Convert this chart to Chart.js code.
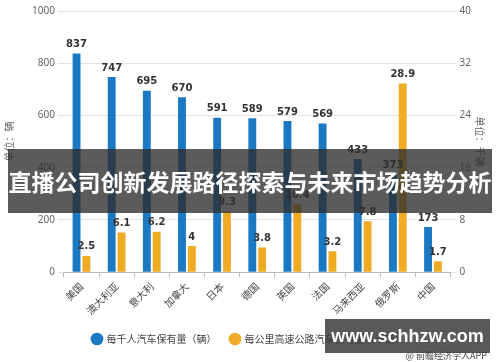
<!DOCTYPE html>
<html>
<head>
<meta charset="utf-8">
<script src="https://cdn.jsdelivr.net/npm/chart.js@4"></script>
<style>
    html, body { margin: 0; padding: 0; background: #fff; }
    #wrap { position: relative; width: 500px; height: 362px; overflow: hidden; font-family: "Noto Sans CJK SC", "Noto Sans", sans-serif; }
    #banner {
        position: absolute; left: 8px; top: 149px; width: 484px; height: 64px;
        background: rgba(45, 45, 45, 0.78); color: #fff;
        font-size: 23px; font-weight: bold; line-height: 64px; text-align: center; white-space: nowrap;
    }
    #site {
        position: absolute; left: 325px; top: 319px; width: 165px; height: 34px;
        background: rgba(60, 60, 60, 0.85); color: #fff;
        font-family: "Liberation Sans", sans-serif; font-size: 18px; font-weight: bold; line-height: 34px; text-align: center;
    }
    #src { position: absolute; right: 13px; top: 350px; font-size: 9px; line-height: 11px; color: #444; }
</style>
</head>
<body>
<div id="wrap">
    <canvas id="chart" width="500" height="362"></canvas>
    <div id="banner">直播公司创新发展路径探索与未来市场趋势分析</div>
    <div id="site">www.schhzw.com</div>
    <div id="src">@ 前瞻经济学人APP</div>
</div>
<script>
// data
const countries = ['美国', '澳大利亚', '意大利', '加拿大', '日本', '德国', '英国', '法国', '马来西亚', '俄罗斯', '中国'];
const carsPer1000 = [837, 747, 695, 670, 591, 589, 579, 569, 433, 373, 173];
const carsPerKm = [2.5, 6.1, 6.2, 4, 9.3, 3.8, 10.4, 3.2, 7.8, 28.9, 1.7];
const leftTicks = [0, 200, 400, 600, 800, 1000];
const rightTicks = [0, 8, 16, 24, 32, 40];

const blue = '#1b78c2';
const orange = '#f0ab25';

// value labels on top of each bar
const barLabels = {
    id: 'barLabels',
    afterDatasetsDraw(chart) {
        const ctx = chart.ctx;
        ctx.save();
        ctx.font = 'bold 10px "DejaVu Sans", sans-serif';
        ctx.fillStyle = '#333';
        ctx.textAlign = 'center';
        ctx.textBaseline = 'bottom';
        chart.data.datasets.forEach((ds, i) => {
            chart.getDatasetMeta(i).data.forEach((bar, j) => {
                ctx.fillText(String(ds.data[j]), bar.x, bar.y - 4);
            });
        });
        ctx.restore();
    }
};

// fixed legend height so the plot keeps its size
const legendHeight = {
    id: 'legendHeight',
    beforeInit(chart) {
        const fit = chart.legend.fit;
        chart.legend.fit = function () {
            fit.call(this);
            this.height = 38;
        };
    }
};

document.addEventListener('DOMContentLoaded', function () {
    const ctx = document.getElementById('chart').getContext('2d');
    new Chart(ctx, {
        type: 'bar',
        data: {
            labels: countries,
            datasets: [{
                label: '每千人汽车保有量（辆）',
                data: carsPer1000,
                backgroundColor: blue,
                yAxisID: 'y',
                categoryPercentage: 0.56,
                barPercentage: 0.8
            }, {
                label: '每公里高速公路汽车保有量（千辆）',
                data: carsPerKm,
                backgroundColor: orange,
                yAxisID: 'y1',
                categoryPercentage: 0.56,
                barPercentage: 0.8
            }]
        },
        options: {
            responsive: false,
            animation: false,
            layout: { padding: { top: 11, left: 3, right: 6, bottom: 4 } },
            plugins: {
                legend: {
                    position: 'bottom',
                    labels: {
                        usePointStyle: true,
                        pointStyle: 'circle',
                        boxWidth: 9,
                        boxHeight: 9,
                        padding: 14,
                        color: '#444',
                        font: { size: 10, family: '"Noto Sans CJK SC", sans-serif' }
                    }
                },
                tooltip: { enabled: false }
            },
            scales: {
                x: {
                    grid: { display: true, drawOnChartArea: false, offset: true, tickLength: 5, color: '#bbb' },
                    border: { color: '#bbb' },
                    ticks: {
                        maxRotation: 45, minRotation: 45,
                        color: '#444',
                        font: { size: 10, family: '"Noto Sans CJK SC", sans-serif' }
                    }
                },
                y: {
                    position: 'left',
                    min: 0, max: 1000,
                    afterBuildTicks: axis => { axis.ticks = leftTicks.map(v => ({ value: v })); },
                    grid: { color: '#e4e4e4', tickLength: 6 },
                    border: { display: false },
                    ticks: { color: '#666', font: { size: 10, family: '"Noto Sans", sans-serif' }, padding: 3, callback: v => String(v) },
                    title: {
                        display: true, text: '单位：辆', color: '#666',
                        font: { size: 10, family: '"Noto Sans CJK SC", sans-serif' }, padding: { top: 0, bottom: 14 }
                    }
                },
                y1: {
                    position: 'right',
                    min: 0, max: 40,
                    afterBuildTicks: axis => { axis.ticks = rightTicks.map(v => ({ value: v })); },
                    grid: { drawOnChartArea: false, tickLength: 6, color: '#e4e4e4' },
                    border: { display: false },
                    ticks: { color: '#666', font: { size: 10, family: '"Noto Sans", sans-serif' }, padding: 3, callback: v => String(v) },
                    title: {
                        display: true, text: '单位：千辆', color: '#666',
                        font: { size: 10, family: '"Noto Sans CJK SC", sans-serif' }, padding: { top: 8, bottom: 0 }
                    }
                }
            }
        },
        plugins: [barLabels, legendHeight]
    });
});
</script>
</body>
</html>
